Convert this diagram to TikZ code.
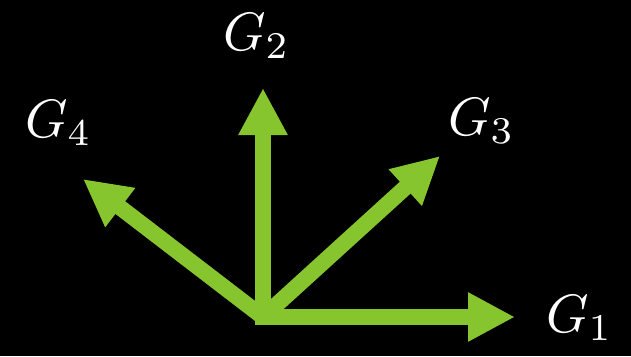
\documentclass[tikz,border=0pt]{standalone}
\usepackage{graphicx}
\usetikzlibrary{arrows.meta}
\definecolor{vgreen}{RGB}{135,197,46}
\newcommand{\biglbl}[1]{\scalebox{5.4}{$#1$}}
\begin{document}
\begin{tikzpicture}[x=1pt,y=-1pt,
  vec/.style={draw=vgreen,line width=16pt,line cap=butt,
    -{Triangle[length=47pt,width=46pt]}},
  vecr/.style={vec,line cap=rect},
  lbl/.style={text=white,inner sep=0pt,anchor=base west}]
\fill[black] (0,0) rectangle (631,356);
\useasboundingbox (0,0) rectangle (631,356);
\coordinate (o) at (263,317);
\coordinate (t1) at (515,317);
\coordinate (t2) at (263,88);
\coordinate (t3) at (440,156);
\coordinate (t4) at (83,179);
\draw[vec] (o) -- (t4);
\draw[vec] (o) -- (t3);
\draw[vecr] (o) -- (t2);
\draw[vecr] (o) -- (t1);
\node[lbl] (g1) at (546,332) {\biglbl{G_1}};
\node[lbl] (g2) at (223,50) {\biglbl{G_2}};
\node[lbl] (g3) at (448,135) {\biglbl{G_3}};
\node[lbl] (g4) at (25,137) {\biglbl{G_4}};
\end{tikzpicture}
\end{document}
